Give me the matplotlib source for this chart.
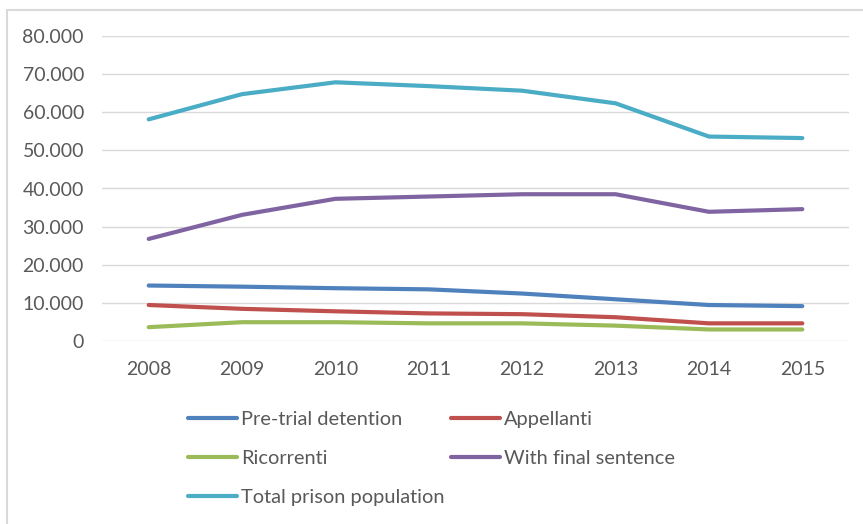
import matplotlib.pyplot as plt
from matplotlib.patches import Rectangle

years = ["2008", "2009", "2010", "2011", "2012", "2013", "2014", "2015"]
pre_trial = [14600, 14300, 13900, 13600, 12500, 11000, 9500, 9200]
appellanti = [9500, 8500, 7850, 7300, 7100, 6300, 4700, 4700]
ricorrenti = [3700, 5000, 5000, 4700, 4700, 4100, 3100, 3100]
final_sentence = [26800, 33100, 37300, 37900, 38500, 38500, 33900, 34600]
total = [58100, 64700, 67800, 66800, 65600, 62300, 53600, 53200]

series = [
    ("Pre-trial detention", pre_trial, "#4F81BD"),
    ("Appellanti", appellanti, "#C0504D"),
    ("Ricorrenti", ricorrenti, "#9BBB59"),
    ("With final sentence", final_sentence, "#8064A2"),
    ("Total prison population", total, "#4BACC6"),
]

plt.rcParams['font.family'] = ['Lato', 'DejaVu Sans']
txt = "#595959"

fig = plt.figure(figsize=(8.63, 5.24), dpi=100)
ax = fig.add_axes([102 / 863, 1 - 341.3 / 524, 747 / 863, 305.6 / 524])

x = range(len(years))
lines = {}
for name, vals, col in series:
    l, = ax.plot(x, vals, color=col, lw=3, solid_capstyle='round', label=name)
    lines[name] = l

ax.set_xlim(-0.5, len(years) - 0.5)
ax.set_ylim(0, 80000)
ax.set_yticks(range(0, 80001, 10000))
ax.set_yticklabels(["0"] + [f"{v // 1000}.000" for v in range(10000, 80001, 10000)])
ax.set_xticks(list(x))
ax.set_xticklabels(years)
ax.grid(axis='y', color="#D9D9D9", lw=1)
ax.set_axisbelow(True)
for s in ax.spines.values():
    s.set_visible(False)
ax.tick_params(axis='both', length=0, labelsize=14, colors=txt)
ax.tick_params(axis='y', pad=13)
ax.tick_params(axis='x', pad=14)

# legend, row-major like the original
order = ["Pre-trial detention", "Ricorrenti", "Total prison population",
         "Appellanti", "With final sentence"]
leg = fig.legend([lines[n] for n in order], order, ncol=2, frameon=False,
                 loc='upper left', bbox_to_anchor=(178 / 863, 1 - 401 / 524),
                 fontsize=14.4, handlelength=2.45, handletextpad=0.2,
                 columnspacing=0.3, labelspacing=1.1, borderpad=0)
for t in leg.get_texts():
    t.set_color(txt)

# outer chart frame (only left/top visible in the crop)
fig.patches.append(Rectangle((7 / 863, -0.1), 1.2, 1 - 10 / 524 + 0.1,
                             transform=fig.transFigure, fill=False,
                             edgecolor="#D9D9D9", lw=1.5))

fig.savefig("out.png", dpi=100)
